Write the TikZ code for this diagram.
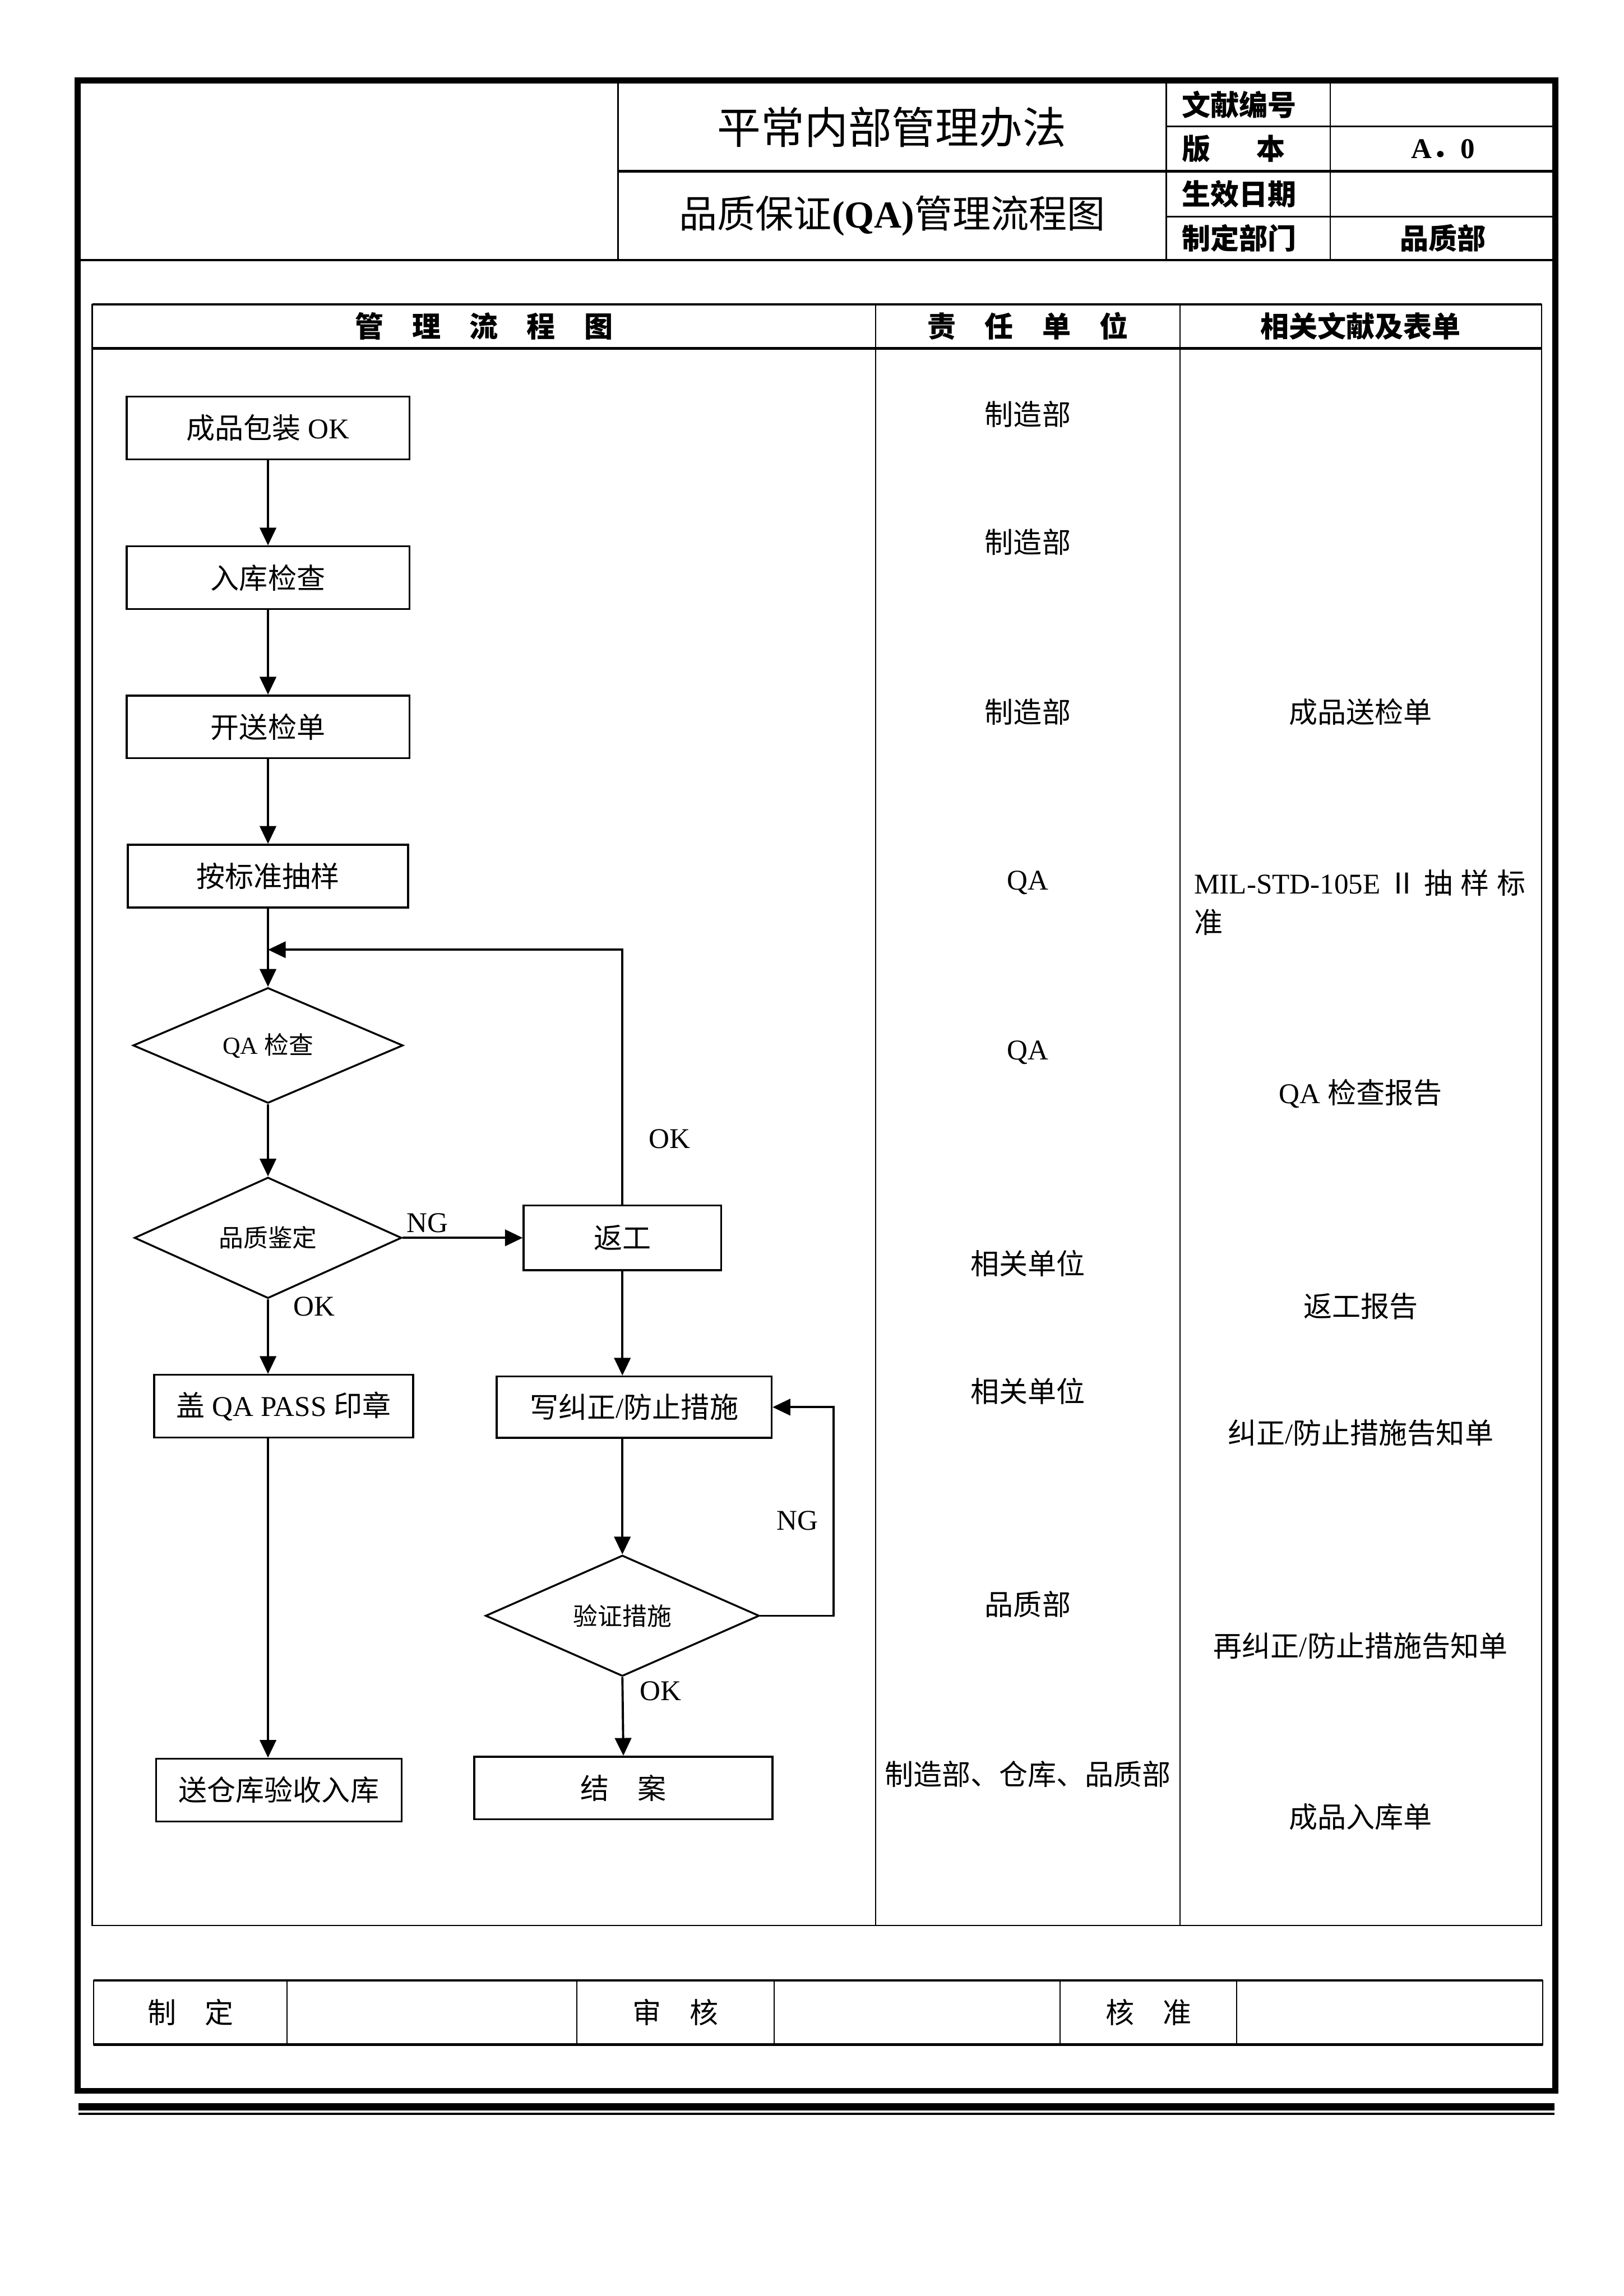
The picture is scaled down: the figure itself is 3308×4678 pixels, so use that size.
\documentclass[tikz,border=0pt]{standalone}
\usepackage{fontspec}
\setmainfont{Liberation Serif}
\newfontfamily\cjk{Noto Sans CJK SC}
\usetikzlibrary{shapes.geometric,arrows.meta}

\newcommand\zh[1]{{\cjk #1}}
\newcommand\wuhao{\fontsize{10.5pt}{14.4pt}\selectfont}
\newcommand\xiaowu{\fontsize{9pt}{11pt}\selectfont}
\newcommand\sihao{\fontsize{14pt}{17pt}\selectfont}
\newcommand\sanhao{\fontsize{16pt}{19pt}\selectfont}

\tikzset{
  procbox/.style={draw, line width=0.7pt, inner sep=0pt, minimum height=23pt, font=\wuhao},
  decision/.style={diamond, draw, line width=0.7pt, inner sep=0pt, font=\xiaowu},
  conn/.style={->, line width=0.8pt},
  txt/.style={inner sep=0pt, font=\wuhao},
}

\begin{document}
\begin{tikzpicture}[x=0.18pt, y=-0.18pt, >={Triangle[length=6.5pt, width=6pt]}]
    % 1. Khổ giấy và khung ngoài
    \fill[white] (0,0) rectangle (3308,4678);
    \useasboundingbox (0,0) rectangle (3308,4678);
    \draw[line width=2.2pt] (158,164) rectangle (3169,4260);
    \draw[line width=2.7pt] (160,4292) -- (3167,4292);
    \draw[line width=0.9pt] (160,4307) -- (3167,4307);

    % 2. Bảng tiêu đề
    \draw[line width=0.5pt] (1259,164) -- (1259,530) (2376,164) -- (2376,530) (2710,164) -- (2710,530);
    \draw[line width=0.6pt] (2376,258) -- (3169,258) (2376,441) -- (3169,441);
    \draw[line width=0.9pt] (1259,349) -- (3169,349) (158,530) -- (3169,530);

    \node[txt, font=\sanhao] (title) at (1817,259) {\zh{平常内部管理办法}};
    \node[txt, font=\sihao] (subtitle) at (1818,440) {\zh{品质保证}\textbf{(QA)}\zh{管理流程图}};

    \node[txt, anchor=west, font=\wuhao\bfseries] (docno) at (2407,213) {\zh{文献编号}};
    \node[txt, anchor=west, font=\wuhao\bfseries] (version) at (2407,303) {\zh{版}\hspace{1.6em}\zh{本}};
    \node[txt, anchor=west, font=\wuhao\bfseries] (effdate) at (2407,395) {\zh{生效日期}};
    \node[txt, anchor=west, font=\wuhao\bfseries] (owner) at (2407,485) {\zh{制定部门}};
    \node[txt, font=\wuhao\bfseries] (versionval) at (2940,303) {A\zh{．}0};
    \node[txt, font=\wuhao\bfseries] (ownerval) at (2940,485) {\zh{品质部}};

    % 3. Bảng chính
    \draw[line width=0.5pt] (188,620) rectangle (3141,3923);
    \draw[line width=0.9pt] (188,620) -- (3141,620) (188,710) -- (3141,710);
    \draw[line width=0.5pt] (1784,620) -- (1784,3923) (2404,620) -- (2404,3923);

    \node[txt, font=\wuhao\bfseries] (headflow) at (986,665) {\zh{管　理　流　程　图}};
    \node[txt, font=\wuhao\bfseries] (headunit) at (2094,665) {\zh{责　任　单　位}};
    \node[txt, font=\wuhao\bfseries] (headdoc) at (2772,665) {\zh{相关文献及表单}};

    % 4. Lưu đồ - cột trái
    \node[procbox, minimum width=103.7pt] (pack) at (546,872) {\zh{成品包装} OK};
    \node[procbox, minimum width=103.7pt] (instore) at (546,1177) {\zh{入库检查}};
    \node[procbox, minimum width=103.7pt] (sendform) at (546,1481) {\zh{开送检单}};
    \node[procbox, minimum width=102.8pt] (sample) at (546,1785) {\zh{按标准抽样}};
    \node[decision, minimum width=99pt, minimum height=39.2pt] (qacheck) at (546,2130) {QA \zh{检查}};
    \node[decision, minimum width=98pt, minimum height=38.7pt] (judge) at (546,2522) {\zh{品质鉴定}};
    \node[procbox, minimum width=95pt] (stamp) at (578,2865) {\zh{盖} QA PASS \zh{印章}};
    \node[procbox, minimum width=90pt] (store) at (568,3647) {\zh{送仓库验收入库}};

    % 5. Lưu đồ - cột phải
    \node[procbox, minimum width=72.4pt, minimum height=23.8pt] (rework) at (1268,2522) {\zh{返工}};
    \node[procbox, minimum width=100.8pt, minimum height=22.5pt] (correct) at (1292,2867) {\zh{写纠正}/\zh{防止措施}};
    \node[decision, minimum width=100.4pt, minimum height=42.3pt] (verify) at (1268,3292) {\zh{验证措施}};
    \node[procbox, minimum width=109.4pt] (close) at (1270,3643) {\zh{结　案}};

    % 6. Mũi tên
    \coordinate (backin) at (546,1935);
    \coordinate (ngturn) at (1698,3292);
    \draw[conn] (pack.south) -- (instore.north);
    \draw[conn] (instore.south) -- (sendform.north);
    \draw[conn] (sendform.south) -- (sample.north);
    \draw[conn] (sample.south) -- (qacheck.north);
    \draw[conn] (qacheck.south) -- (judge.north);
    \draw[conn] (judge.east) -- (rework.west);
    \draw[conn] (rework.north) |- (backin);
    \draw[conn] (judge.south) -- (judge.south |- stamp.north);
    \draw[conn] (judge.south |- stamp.south) -- (judge.south |- store.north);
    \draw[conn] (rework.south) -- (rework.south |- correct.north);
    \draw[conn] (rework.south |- correct.south) -- (verify.north);
    \draw[conn] (verify.south) -- (close.north);
    \draw[conn] (verify.east) -- (ngturn) |- (correct.east);

    % Nhãn OK / NG
    \node[txt] (okback) at (1364,2320) {OK};
    \node[txt] (ngjudge) at (871,2492) {NG};
    \node[txt] (okjudge) at (640,2662) {OK};
    \node[txt] (ngverify) at (1625,3098) {NG};
    \node[txt] (okverify) at (1346,3446) {OK};

    % 7. Đơn vị chịu trách nhiệm
    \node[txt] (unitpack) at (2094,844) {\zh{制造部}};
    \node[txt] (unitstore) at (2094,1104) {\zh{制造部}};
    \node[txt] (unitsend) at (2094,1450) {\zh{制造部}};
    \node[txt] (unitsample) at (2094,1799) {QA};
    \node[txt] (unitcheck) at (2094,2145) {QA};
    \node[txt] (unitrework) at (2094,2574) {\zh{相关单位}};
    \node[txt] (unitcorrect) at (2094,2834) {\zh{相关单位}};
    \node[txt] (unitverify) at (2094,3269) {\zh{品质部}};
    \node[txt] (unitclose) at (2094,3615) {\zh{制造部、仓库、品质部}};

    % 8. Tài liệu và biểu mẫu
    \node[txt] (docsend) at (2772,1450) {\zh{成品送检单}};
    \node[txt, anchor=west, align=left] (docmil) at (2432,1839)
        {\makebox[121.5pt][s]{MIL-STD-105E \zh{Ⅱ} \zh{抽} \zh{样} \zh{标}}\\\zh{准}};
    \node[txt] (doccheck) at (2772,2228) {QA \zh{检查报告}};
    \node[txt] (docrework) at (2772,2661) {\zh{返工报告}};
    \node[txt] (doccorrect) at (2772,2920) {\zh{纠正}/\zh{防止措施告知单}};
    \node[txt] (docverify) at (2772,3353) {\zh{再纠正}/\zh{防止措施告知单}};
    \node[txt] (docstore) at (2772,3702) {\zh{成品入库单}};

    % 9. Bảng ký duyệt
    \draw[line width=0.5pt] (191,4035) rectangle (3143,4166);
    \draw[line width=1pt] (191,4035) -- (3143,4035) (191,4166) -- (3143,4166);
    \draw[line width=0.4pt] (585,4035) -- (585,4166) (1175,4035) -- (1175,4166)
        (1577,4035) -- (1577,4166) (2160,4035) -- (2160,4166) (2519,4035) -- (2519,4166);
    \node[txt] (signmake) at (388,4100) {\zh{制　定}};
    \node[txt] (signreview) at (1376,4100) {\zh{审　核}};
    \node[txt] (signapprove) at (2340,4100) {\zh{核　准}};
\end{tikzpicture}
\end{document}
